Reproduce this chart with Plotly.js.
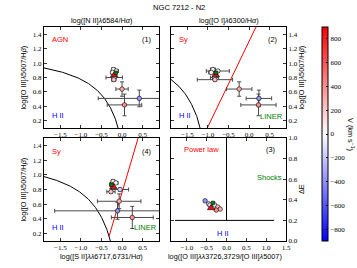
<!DOCTYPE html>
<html><head><meta charset="utf-8">
<script src="https://cdn.plot.ly/plotly-3.0.1.min.js"></script>
<style>html,body{margin:0;padding:0;background:#fff}#chart{width:357px;height:268px}</style>
</head><body><div id="chart"></div>
<script>
// ---- data (order: p1, p2, p3, p4, p5, A, B, C) ----
const velocity = [60, -40, 20, -150, 220, 300, -380, 400];
const o3hb     = [0.91, 0.89, 0.87, 0.80, 0.77, 0.64, 0.51, 0.42];
const o3hbErr  = [0.02, 0.02, 0.02, 0.02, 0.02, 0.10, 0.115, 0.15];
const n2ha     = [-0.21, -0.14, -0.23, -0.19, -0.20, 0.00, 0.42, 0.06];
const n2haErr  = [0.04, 0.05, 0.04, 0.20, 0.05, 0.15, 1.00, 0.42];
const o1ha     = [-0.88, -0.76, -0.92, -0.84, -0.83, -0.24, 0.24, 0.23];
const o1haErr  = [0.06, 0.28, 0.06, 0.10, 0.43, 0.31, 0.31, 0.43];
const s2ha     = [-0.22, -0.15, -0.25, -0.05, -0.27, -0.07, -0.11, 0.25];
const s2haErr  = [0.04, 0.05, 0.04, 0.21, 0.10, 0.53, 1.53, 0.51];
const o2o3     = [-0.45, -0.30, -0.40, -0.42, -0.22, -0.16, -0.54, -0.26];
const deltaE   = [0.36, 0.35, 0.34, 0.35, 0.33, 0.31, 0.39, 0.30];
// special markers: high-velocity (red) and nucleus (green)
const redVel = 880;
const redO3hb = 0.835, redN2 = -0.19, redO1 = -0.81, redS2 = -0.21, redO2o3 = -0.39, redDE = 0.32;
const grnO3hb = 0.865, grnN2 = -0.15, grnO1 = -0.80, grnS2 = -0.26, grnO2o3 = -0.34, grnDE = 0.37;
// demarcation line coefficients
const kew01N2 = [0.61, 0.47, 1.19];   // y = a/(x-b)+c
const kew01O1 = [0.73, -0.59, 1.33];
const kew01S2 = [0.72, 0.32, 1.30];
const kew06O1 = [1.18, 1.30];         // y = m x + q
const kew06S2 = [1.89, 0.76];
const dEhoriz = {y: 0.2, x0: -1.3, x1: 1.2};
const dEvert = {x: 0.0, y0: 0.2, y1: 1.0};
const vRange = [-900, 900];

// ---- helpers ----
const W = 357, H = 268;
const bwr = [[0, '#0000ff'], [0.5, '#ffffff'], [1, '#ff0000']];
function hyper(c, x0, x1) {
  const xs = [], ys = [];
  for (let x = x0; x <= x1 + 1e-9; x += 0.01) { xs.push(x); ys.push(c[0] / (x - c[1]) + c[2]); }
  return {xs, ys};
}
function lineTr(xs, ys, color, xa, ya) {
  return {type: 'scatter', mode: 'lines', x: xs, y: ys, xaxis: xa, yaxis: ya,
    line: {color: color, width: 1}, hoverinfo: 'skip', showlegend: false};
}
const errStyle = {type: 'data', visible: true, color: '#4a4a4a', thickness: 1, width: 2};
function ptsTr(x, xe, y, ye, xa, ya, scale) {
  const t = {type: 'scatter', mode: 'markers', x: x, y: y, xaxis: xa, yaxis: ya, showlegend: false,
    marker: {color: velocity, colorscale: bwr, cmin: vRange[0], cmax: vRange[1], size: 4.5,
      line: {color: '#000', width: 0.6}, showscale: !!scale}};
  if (xe) t.error_x = Object.assign({array: xe}, errStyle);
  if (ye) t.error_y = Object.assign({array: ye}, errStyle);
  if (scale) t.marker.colorbar = {
    x: 322 / W, xanchor: 'left', y: 0.5, yanchor: 'middle', len: 214, lenmode: 'pixels',
    thickness: 6, thicknessmode: 'pixels', xpad: 0, ypad: 0, outlinewidth: 1, outlinecolor: '#000',
    tickmode: 'linear', tick0: 0, dtick: 200, ticks: 'inside', ticklen: 2, tickcolor: '#000',
    tickfont: {family: 'Liberation Serif', size: 7, color: '#000'}};
  return t;
}
function redTr(x, y, xa, ya) {
  return {type: 'scatter', mode: 'markers', x: [x], y: [y], xaxis: xa, yaxis: ya, showlegend: false,
    marker: {color: [redVel], colorscale: bwr, cmin: vRange[0], cmax: vRange[1], symbol: 'triangle-up',
      size: 6.5, line: {color: '#000', width: 0.6}}};
}
function grnTr(x, y, xa, ya) {
  return {type: 'scatter', mode: 'markers', x: [x], y: [y], xaxis: xa, yaxis: ya, showlegend: false,
    marker: {color: '#008000', symbol: 'square', size: 3.5, line: {color: '#000', width: 0.5}}};
}

const traces = [];
// panel 1
let h = hyper(kew01N2, -1.9, 0.2);
traces.push(lineTr(h.xs, h.ys, '#000', 'x', 'y'));
traces.push(ptsTr(n2ha, n2haErr, o3hb, o3hbErr, 'x', 'y', true));
traces.push(redTr(redN2, redO3hb, 'x', 'y'));
traces.push(grnTr(grnN2, grnO3hb, 'x', 'y'));
// panel 2
h = hyper(kew01O1, -1.9, -1.12);
traces.push(lineTr(h.xs, h.ys, '#000', 'x2', 'y2'));
traces.push(lineTr([-1.1, 0.25], [kew06O1[0] * -1.1 + kew06O1[1], kew06O1[0] * 0.25 + kew06O1[1]], '#ff0000', 'x2', 'y2'));
traces.push(ptsTr(o1ha, o1haErr, o3hb, o3hbErr, 'x2', 'y2', false));
traces.push(redTr(redO1, redO3hb, 'x2', 'y2'));
traces.push(grnTr(grnO1, grnO3hb, 'x2', 'y2'));
// panel 4 (bottom-left)
h = hyper(kew01S2, -1.9, -0.25);
traces.push(lineTr(h.xs, h.ys, '#000', 'x4', 'y4'));
traces.push(lineTr([-0.315, 0.45], [kew06S2[0] * -0.315 + kew06S2[1], kew06S2[0] * 0.45 + kew06S2[1]], '#ff0000', 'x4', 'y4'));
traces.push(ptsTr(s2ha, s2haErr, o3hb, o3hbErr, 'x4', 'y4', false));
traces.push(redTr(redS2, redO3hb, 'x4', 'y4'));
traces.push(grnTr(grnS2, grnO3hb, 'x4', 'y4'));
// panel 3 (bottom-right)
traces.push(lineTr([dEhoriz.x0, dEhoriz.x1], [dEhoriz.y, dEhoriz.y], '#000', 'x3', 'y3'));
traces.push(lineTr([dEvert.x, dEvert.x], [dEvert.y0, dEvert.y1], '#000', 'x3', 'y3'));
traces.push(ptsTr(o2o3, null, deltaE, null, 'x3', 'y3', false));
traces.push(redTr(redO2o3, redDE, 'x3', 'y3'));
traces.push(grnTr(grnO2o3, grnDE, 'x3', 'y3'));

const base = {showline: true, linecolor: '#000', linewidth: 1, mirror: 'ticks', ticks: 'inside',
  ticklen: 3, tickwidth: 0.8, tickcolor: '#000', showgrid: false, zeroline: false, fixedrange: true,
  tickformat: '.1f', tickfont: {family: 'Liberation Serif', size: 7, color: '#000'}};
const dL = [44 / W, 159 / W], dR = [171 / W, 286 / W];
const dT = [1 - 128 / H, 1 - 27 / H], dB = [1 - 241 / H, 1 - 138 / H];
function ax(o) { return Object.assign({}, base, o); }

const F = 'Liberation Sans';
function ann(text, px, py, o) {
  return Object.assign({text: text, x: px / W, y: 1 - py / H, xref: 'paper', yref: 'paper',
    showarrow: false, xanchor: 'center', yanchor: 'middle', borderpad: 0,
    font: {family: F, size: 7.3, color: '#000'}}, o || {});
}
const RED = '#ff0000', BLUE = '#0000ff', GRN = '#008000';
const ytitle = 'log([O III]<i>λ</i>5007/H<i>β</i>)';
const annotations = [
  ann('NGC 7212 - N2', 179, 7, {font: {family: F, size: 7.6, color: '#000'}}),
  ann('log([N II]<i>λ</i>6584/H<i>α</i>)', 101, 20.5),
  ann('log([O I]<i>λ</i>6300/H<i>α</i>)', 229, 20.5),
  ann('log([S II]<i>λλ</i>6717,6731/H<i>α</i>)', 101, 256),
  ann('log([O III]<i>λλ</i>3726,3729/[O III]<i>λ</i>5007)', 225, 256),
  ann(ytitle, 23, 77.5, {textangle: -90}),
  ann(ytitle, 23, 189.5, {textangle: -90}),
  ann(ytitle, 301, 77.5, {textangle: -90}),
  ann('ΔE', 301, 189, {textangle: -90}),
  ann('V (km s<sup>−1</sup>)', 351, 134, {textangle: 90}),
  ann('AGN', 51, 39, {xanchor: 'left', font: {family: F, size: 7.5, color: RED}}),
  ann('(1)', 146, 39),
  ann('H II', 51, 115, {xanchor: 'left', font: {family: F, size: 7.5, color: BLUE}}),
  ann('Sy', 178, 39, {xanchor: 'left', font: {family: F, size: 7.5, color: RED}}),
  ann('(2)', 272, 39),
  ann('H II', 178, 115, {xanchor: 'left', font: {family: F, size: 7.5, color: BLUE}}),
  ann('LINER', 259, 116.5, {xanchor: 'left', font: {family: F, size: 7.5, color: GRN}}),
  ann('Sy', 51, 151, {xanchor: 'left', font: {family: F, size: 7.5, color: RED}}),
  ann('(4)', 146, 151),
  ann('H II', 51, 227, {xanchor: 'left', font: {family: F, size: 7.5, color: BLUE}}),
  ann('LINER', 133, 227.5, {xanchor: 'left', font: {family: F, size: 7.5, color: GRN}}),
  ann('Power law', 183, 149.5, {xanchor: 'left', font: {family: F, size: 7.5, color: RED}}),
  ann('(3)', 270.5, 149.5),
  ann('Shocks', 256, 177.5, {xanchor: 'left', font: {family: F, size: 7.5, color: GRN}}),
  ann('H II', 222.5, 233.5, {font: {family: F, size: 7.5, color: BLUE}})
];

const layout = {
  width: W, height: H, margin: {l: 0, r: 0, t: 0, b: 0}, paper_bgcolor: '#fff', plot_bgcolor: '#fff',
  showlegend: false, annotations: annotations,
  xaxis: ax({domain: dL, range: [-1.9, 0.9], dtick: 0.5, tick0: 0, anchor: 'y'}),
  yaxis: ax({domain: dT, range: [0.1, 1.5], dtick: 0.2, tick0: 0, anchor: 'x', side: 'left'}),
  xaxis2: ax({domain: dR, range: [-1.9, 0.9], dtick: 0.5, tick0: 0, anchor: 'y2'}),
  yaxis2: ax({domain: dT, range: [0.1, 1.5], dtick: 0.2, tick0: 0, anchor: 'x2', side: 'right'}),
  xaxis3: ax({domain: dR, range: [-1.4, 1.5], dtick: 0.5, tick0: 0, anchor: 'y3'}),
  yaxis3: ax({domain: dB, range: [0, 1], dtick: 0.2, tick0: 0, anchor: 'x3', side: 'right'}),
  xaxis4: ax({domain: dL, range: [-1.9, 0.9], dtick: 0.5, tick0: 0, anchor: 'y4'}),
  yaxis4: ax({domain: dB, range: [0.1, 1.5], dtick: 0.2, tick0: 0, anchor: 'x4', side: 'left'})
};
Plotly.newPlot('chart', traces, layout, {staticPlot: true, displayModeBar: false});
</script></body></html>
